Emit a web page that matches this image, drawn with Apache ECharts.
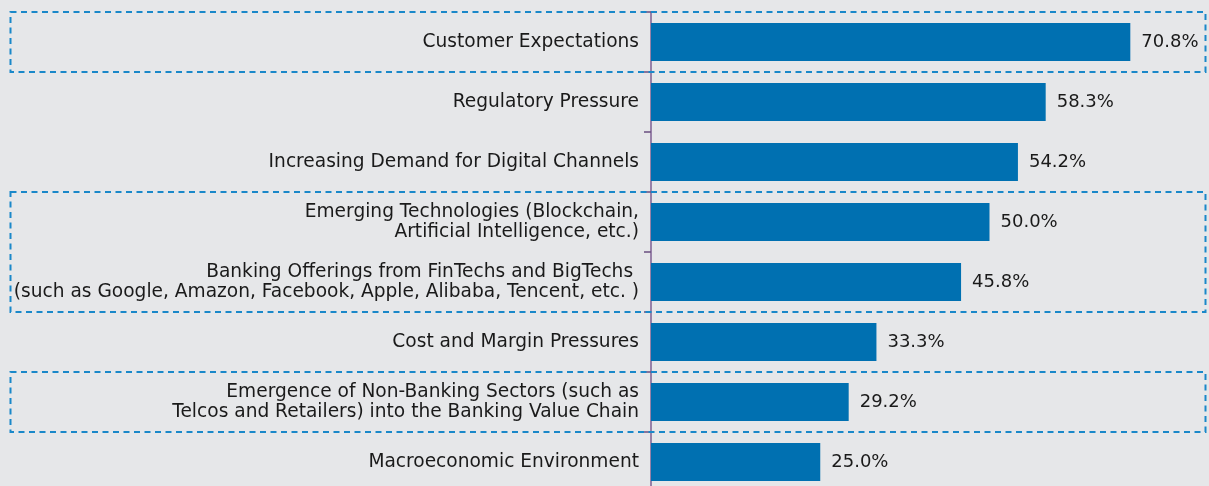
<!DOCTYPE html>
<html><head><meta charset="utf-8">
<script src="https://cdn.jsdelivr.net/npm/echarts@6/dist/echarts.min.js"></script>
<style>html,body{margin:0;padding:0;background:#e6e7e9;overflow:hidden;}#c{width:1209px;height:500px;}</style>
</head><body><div id="c"></div>
<script>
const categories = [
  "Customer Expectations",
  "Regulatory Pressure",
  "Increasing Demand for Digital Channels",
  "Emerging Technologies (Blockchain,\nArtificial Intelligence, etc.)",
  "Banking Offerings from FinTechs and BigTechs \n(such as Google, Amazon, Facebook, Apple, Alibaba, Tencent, etc. )",
  "Cost and Margin Pressures",
  "Emergence of Non-Banking Sectors (such as\nTelcos and Retailers) into the Banking Value Chain",
  "Macroeconomic Environment"
];
const values = [70.8, 58.3, 54.2, 50.0, 45.8, 33.3, 29.2, 25.0];
// highlighted groups: [firstIndex, lastIndex]
const highlightGroups = [[0, 0], [3, 4], [6, 6]];

const FONT = "DejaVu Sans";
const chart = echarts.init(document.getElementById('c'));
const option = {
  backgroundColor: '#e6e7e9',
  animation: false,
  grid: { left: 651, right: 16.4, top: 12, bottom: 8, containLabel: false },
  xAxis: { type: 'value', min: 0, max: 80, show: false },
  yAxis: {
    type: 'category', data: categories, inverse: true,
    axisLine: { show: true, lineStyle: { color: '#7d5f92', width: 1.5 } },
    axisTick: { show: true, length: 7, lineStyle: { color: '#6a4f80', width: 1.5 } },
    axisLabel: { color: '#1a1a1a', fontFamily: FONT, fontSize: 18.6, margin: 12, lineHeight: 20, align: 'right',
      padding: [3, 0, 0, 0] }
  },
  series: [{
    type: 'bar', data: values, barWidth: 38,
    itemStyle: { color: '#0070b1' },
    label: { show: true, position: 'right', distance: 11, color: '#1a1a1a', fontFamily: FONT, fontSize: 18,
      padding: [3, 0, 0, 0], formatter: p => p.value.toFixed(1) + '%' }
  }]
};
chart.setOption(option);

function drawBoxes() {
  const band = chart.getModel().getComponent('yAxis', 0).axis.getBandWidth();
  const els = highlightGroups.map(g => {
    const y0 = chart.convertToPixel({ yAxisIndex: 0 }, categories[g[0]]);
    const y1 = chart.convertToPixel({ yAxisIndex: 0 }, categories[g[1]]);
    const top = y0 - band / 2, bottom = y1 + band / 2;
    return {
      type: 'rect', z: 100, silent: true,
      shape: { x: 10.5, y: top, width: 1195, height: bottom - top },
      style: { fill: 'none', stroke: '#1a88c9', lineWidth: 2, lineDash: [6, 4.5] }
    };
  });
  chart.setOption({ graphic: els });
}
drawBoxes();
</script></body></html>
